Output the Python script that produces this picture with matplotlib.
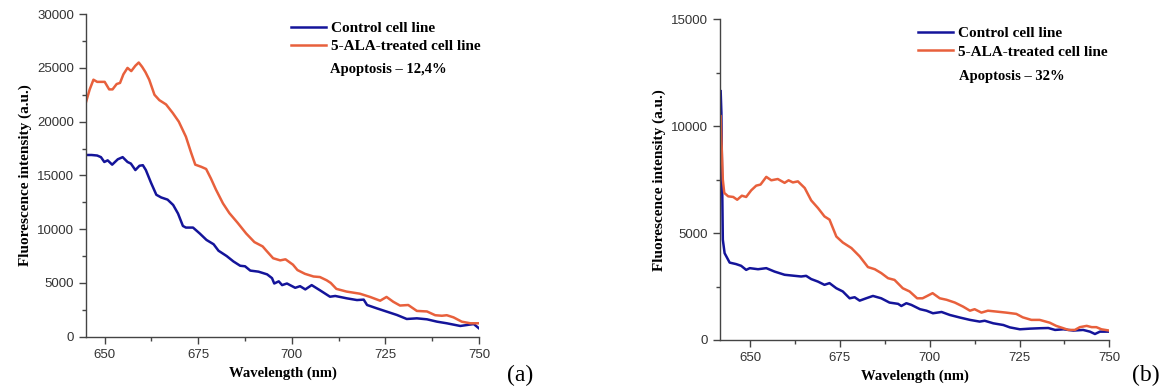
import numpy as np
import matplotlib
matplotlib.use("Agg")
import matplotlib.pyplot as plt
from matplotlib.ticker import MultipleLocator

# panel (a) - apoptosis 12,4%
wl_a_treated = [645, 646, 647, 648, 650, 651.2, 652.1, 653.2, 654.1, 655, 656.1, 657.1, 658.2, 659.1,
                660, 660.9, 661.9, 663.3, 664.6, 666.4, 668.2, 669.8, 671.7, 673.1, 674.2, 675.8,
                677.1, 678.4, 679.7, 681.6, 683.3, 685.5, 687.8, 690, 692.2, 693.2, 695, 696.9,
                698.3, 700.3, 701.5, 703.5, 705.8, 707.5, 709.3, 710.4, 711.9, 714.6, 718.2, 720.9,
                723.6, 725.3, 727.1, 728.9, 731.1, 733.4, 736.1, 738.3, 740.1, 741.4, 743.2, 745.4,
                747.7, 750]
a_treated = [21800, 23000, 23900, 23700, 23700, 23000, 23000, 23500, 23600, 24400, 25000, 24700, 25200, 25500,
             25100, 24600, 23900, 22500, 22000, 21600, 20800, 20000, 18600, 17100, 16000, 15800,
             15600, 14700, 13700, 12400, 11500, 10600, 9600, 8800, 8400, 8000, 7300, 7100,
             7200, 6700, 6200, 5850, 5600, 5550, 5250, 5000, 4450, 4200, 4000, 3700,
             3350, 3700, 3250, 2900, 2950, 2400, 2350, 2000, 1950, 2000, 1800, 1400,
             1250, 1250]

wl_a_control = [645.5, 646.5, 648, 649, 649.9, 650.8, 652, 653.5, 654.8, 656.1, 657, 658.2, 659.3, 660.2,
                661, 662.4, 663.8, 665.1, 666.8, 668.3, 669.6, 670.9, 671.7, 673.6, 675.4, 677.2,
                679.1, 680.4, 682.6, 684.4, 686.2, 687.5, 688.9, 691.1, 693.4, 694.7, 695.3, 696.5,
                697.4, 698.7, 700.9, 702.2, 703.6, 705.3, 707.6, 710.2, 711.6, 714.7, 717.4, 719.2,
                720.1, 722.7, 725.4, 728.1, 730.7, 733.4, 736.1, 738.8, 741.4, 745, 746.8, 748.6, 750]
a_control = [16900, 16900, 16850, 16700, 16250, 16400, 16000, 16500, 16700, 16250, 16100, 15500, 15900, 15950,
             15500, 14300, 13200, 12950, 12750, 12250, 11450, 10300, 10150, 10150, 9600, 9000,
             8600, 8000, 7500, 7000, 6600, 6550, 6150, 6050, 5800, 5450, 4950, 5150,
             4800, 4950, 4550, 4700, 4400, 4800, 4300, 3720, 3790, 3570, 3410, 3450,
             2950, 2640, 2330, 2020, 1650, 1710, 1620, 1400, 1250, 1000, 1090, 1180, 780]

# panel (b) - apoptosis 32%
wl_b_control = [641.8, 642.0, 642.2, 642.4, 642.9, 644.3, 646.1, 647.5, 648.9, 649.9, 652.2, 654.5, 656.8,
                659.6, 661.9, 664.2, 665.6, 667.0, 668.9, 670.7, 672.1, 674.0, 675.8, 677.7, 679.1,
                680.5, 682.3, 684.2, 686.5, 688.8, 691.2, 692.1, 693.5, 694.9, 697.3, 699.1, 700.9,
                703.3, 705.6, 708.4, 711.2, 713.9, 715.3, 717.7, 720.5, 722.3, 725.1, 727.9, 730.7,
                733.0, 734.9, 737.2, 740.0, 742.7, 744.6, 746.0, 747.4, 750]
b_control = [11640, 10630, 7500, 4690, 4060, 3620, 3550, 3470, 3280, 3360, 3310, 3360, 3200,
             3050, 3010, 2970, 3000, 2850, 2730, 2580, 2660, 2420, 2270, 1950, 2000,
             1840, 1950, 2060, 1950, 1750, 1690, 1590, 1720, 1640, 1440, 1370, 1250,
             1310, 1170, 1050, 940, 860, 900, 780, 700, 590, 500, 530, 550,
             560, 470, 500, 440, 470, 390, 280, 390, 390]

wl_b_treated = [641.8, 642.0, 642.4, 642.8, 643.9, 645.3, 646.4, 647.7, 648.9, 650.3, 651.7, 652.9, 654.5,
                655.9, 657.7, 659.6, 660.7, 661.9, 663.3, 665.2, 667.0, 668.9, 670.7, 672.1, 674.0,
                675.8, 678.2, 680.5, 682.8, 684.7, 686.5, 688.4, 690.2, 692.5, 694.4, 696.5, 698.0,
                699.3, 700.8, 702.8, 704.7, 707.0, 709.3, 711.2, 712.5, 714.4, 716.2, 718.5, 721.3,
                724.1, 725.9, 728.3, 730.6, 733.4, 735.2, 737.2, 738.6, 740.4, 741.8, 743.7, 745.1,
                746.4, 747.8, 750]
b_treated = [10470, 9380, 7500, 6880, 6720, 6690, 6560, 6750, 6690, 7000, 7220, 7270, 7630,
             7470, 7530, 7350, 7470, 7370, 7420, 7110, 6530, 6170, 5780, 5630, 4840,
             4560, 4300, 3910, 3410, 3310, 3130, 2890, 2810, 2420, 2270, 1950, 1950,
             2060, 2190, 1950, 1880, 1750, 1560, 1370, 1440, 1280, 1370, 1330, 1280,
             1220, 1060, 940, 940, 810, 660, 550, 470, 470, 600, 660, 600,
             600, 500, 440]

blue = '#14149a'
orange = '#e8603c'
serif = 'Liberation Serif'
sans = 'Liberation Sans'

fig = plt.figure(figsize=(11.76, 3.92), dpi=100)
ax1 = fig.add_axes([0.0731, 0.141, 0.3342, 0.823])
ax2 = fig.add_axes([0.6122, 0.1327, 0.3311, 0.818])


def style(ax, xlim, ylim, ymaj):
    ax.set_xlim(xlim)
    ax.set_ylim(ylim)
    for s in ['top', 'right']:
        ax.spines[s].set_visible(False)
    for s in ['left', 'bottom']:
        ax.spines[s].set_color('#444444')
        ax.spines[s].set_linewidth(1.0)
    ax.xaxis.set_major_locator(MultipleLocator(25))
    ax.xaxis.set_minor_locator(MultipleLocator(12.5))
    ax.yaxis.set_major_locator(MultipleLocator(ymaj))
    ax.yaxis.set_minor_locator(MultipleLocator(ymaj / 2))
    ax.tick_params(which='major', direction='out', length=5, width=1, color='#444444',
                   labelsize=9.5, labelcolor='#333333')
    ax.tick_params(which='minor', direction='out', length=3, width=1, color='#444444')
    for lab in ax.get_xticklabels() + ax.get_yticklabels():
        lab.set_family(sans)
    ax.set_xlabel('Wavelength (nm)', family=serif, fontweight='bold', fontsize=10.5)
    ax.set_ylabel('Fluorescence intensity (a.u.)', family=serif, fontweight='bold', fontsize=11)


# (a)
ax1.plot(wl_a_control, a_control, color=blue, linewidth=1.8, label='Control cell line')
ax1.plot(wl_a_treated, a_treated, color=orange, linewidth=1.8, label='5-ALA-treated cell line')
style(ax1, (645, 750), (0, 30000), 5000)
ax1.legend(loc='upper left', bbox_to_anchor=(0.522, 0.978), frameon=False, borderpad=0,
           borderaxespad=0, handlelength=2.3, handletextpad=0.3, labelspacing=0.3,
           prop={'family': serif, 'weight': 'bold', 'size': 11})
ax1.text(0.621, 0.827, 'Apoptosis – 12,4%', transform=ax1.transAxes, family=serif,
         fontweight='bold', fontsize=10.5, va='center', ha='left')

# (b)
ax2.plot(wl_b_control, b_control, color=blue, linewidth=1.8, label='Control cell line')
ax2.plot(wl_b_treated, b_treated, color=orange, linewidth=1.8, label='5-ALA-treated cell line')
style(ax2, (641.6, 750), (0, 15000), 5000)
ax2.legend(loc='upper left', bbox_to_anchor=(0.509, 0.977), frameon=False, borderpad=0,
           borderaxespad=0, handlelength=2.3, handletextpad=0.3, labelspacing=0.3,
           prop={'family': serif, 'weight': 'bold', 'size': 11})
ax2.text(0.614, 0.821, 'Apoptosis – 32%', transform=ax2.transAxes, family=serif,
         fontweight='bold', fontsize=10.5, va='center', ha='left')

fig.text(0.442, 0.043, '(a)', family=serif, fontsize=17, ha='center', va='center')
fig.text(0.974, 0.043, '(b)', family=serif, fontsize=17, ha='center', va='center')

fig.savefig('out.png', dpi=100)
